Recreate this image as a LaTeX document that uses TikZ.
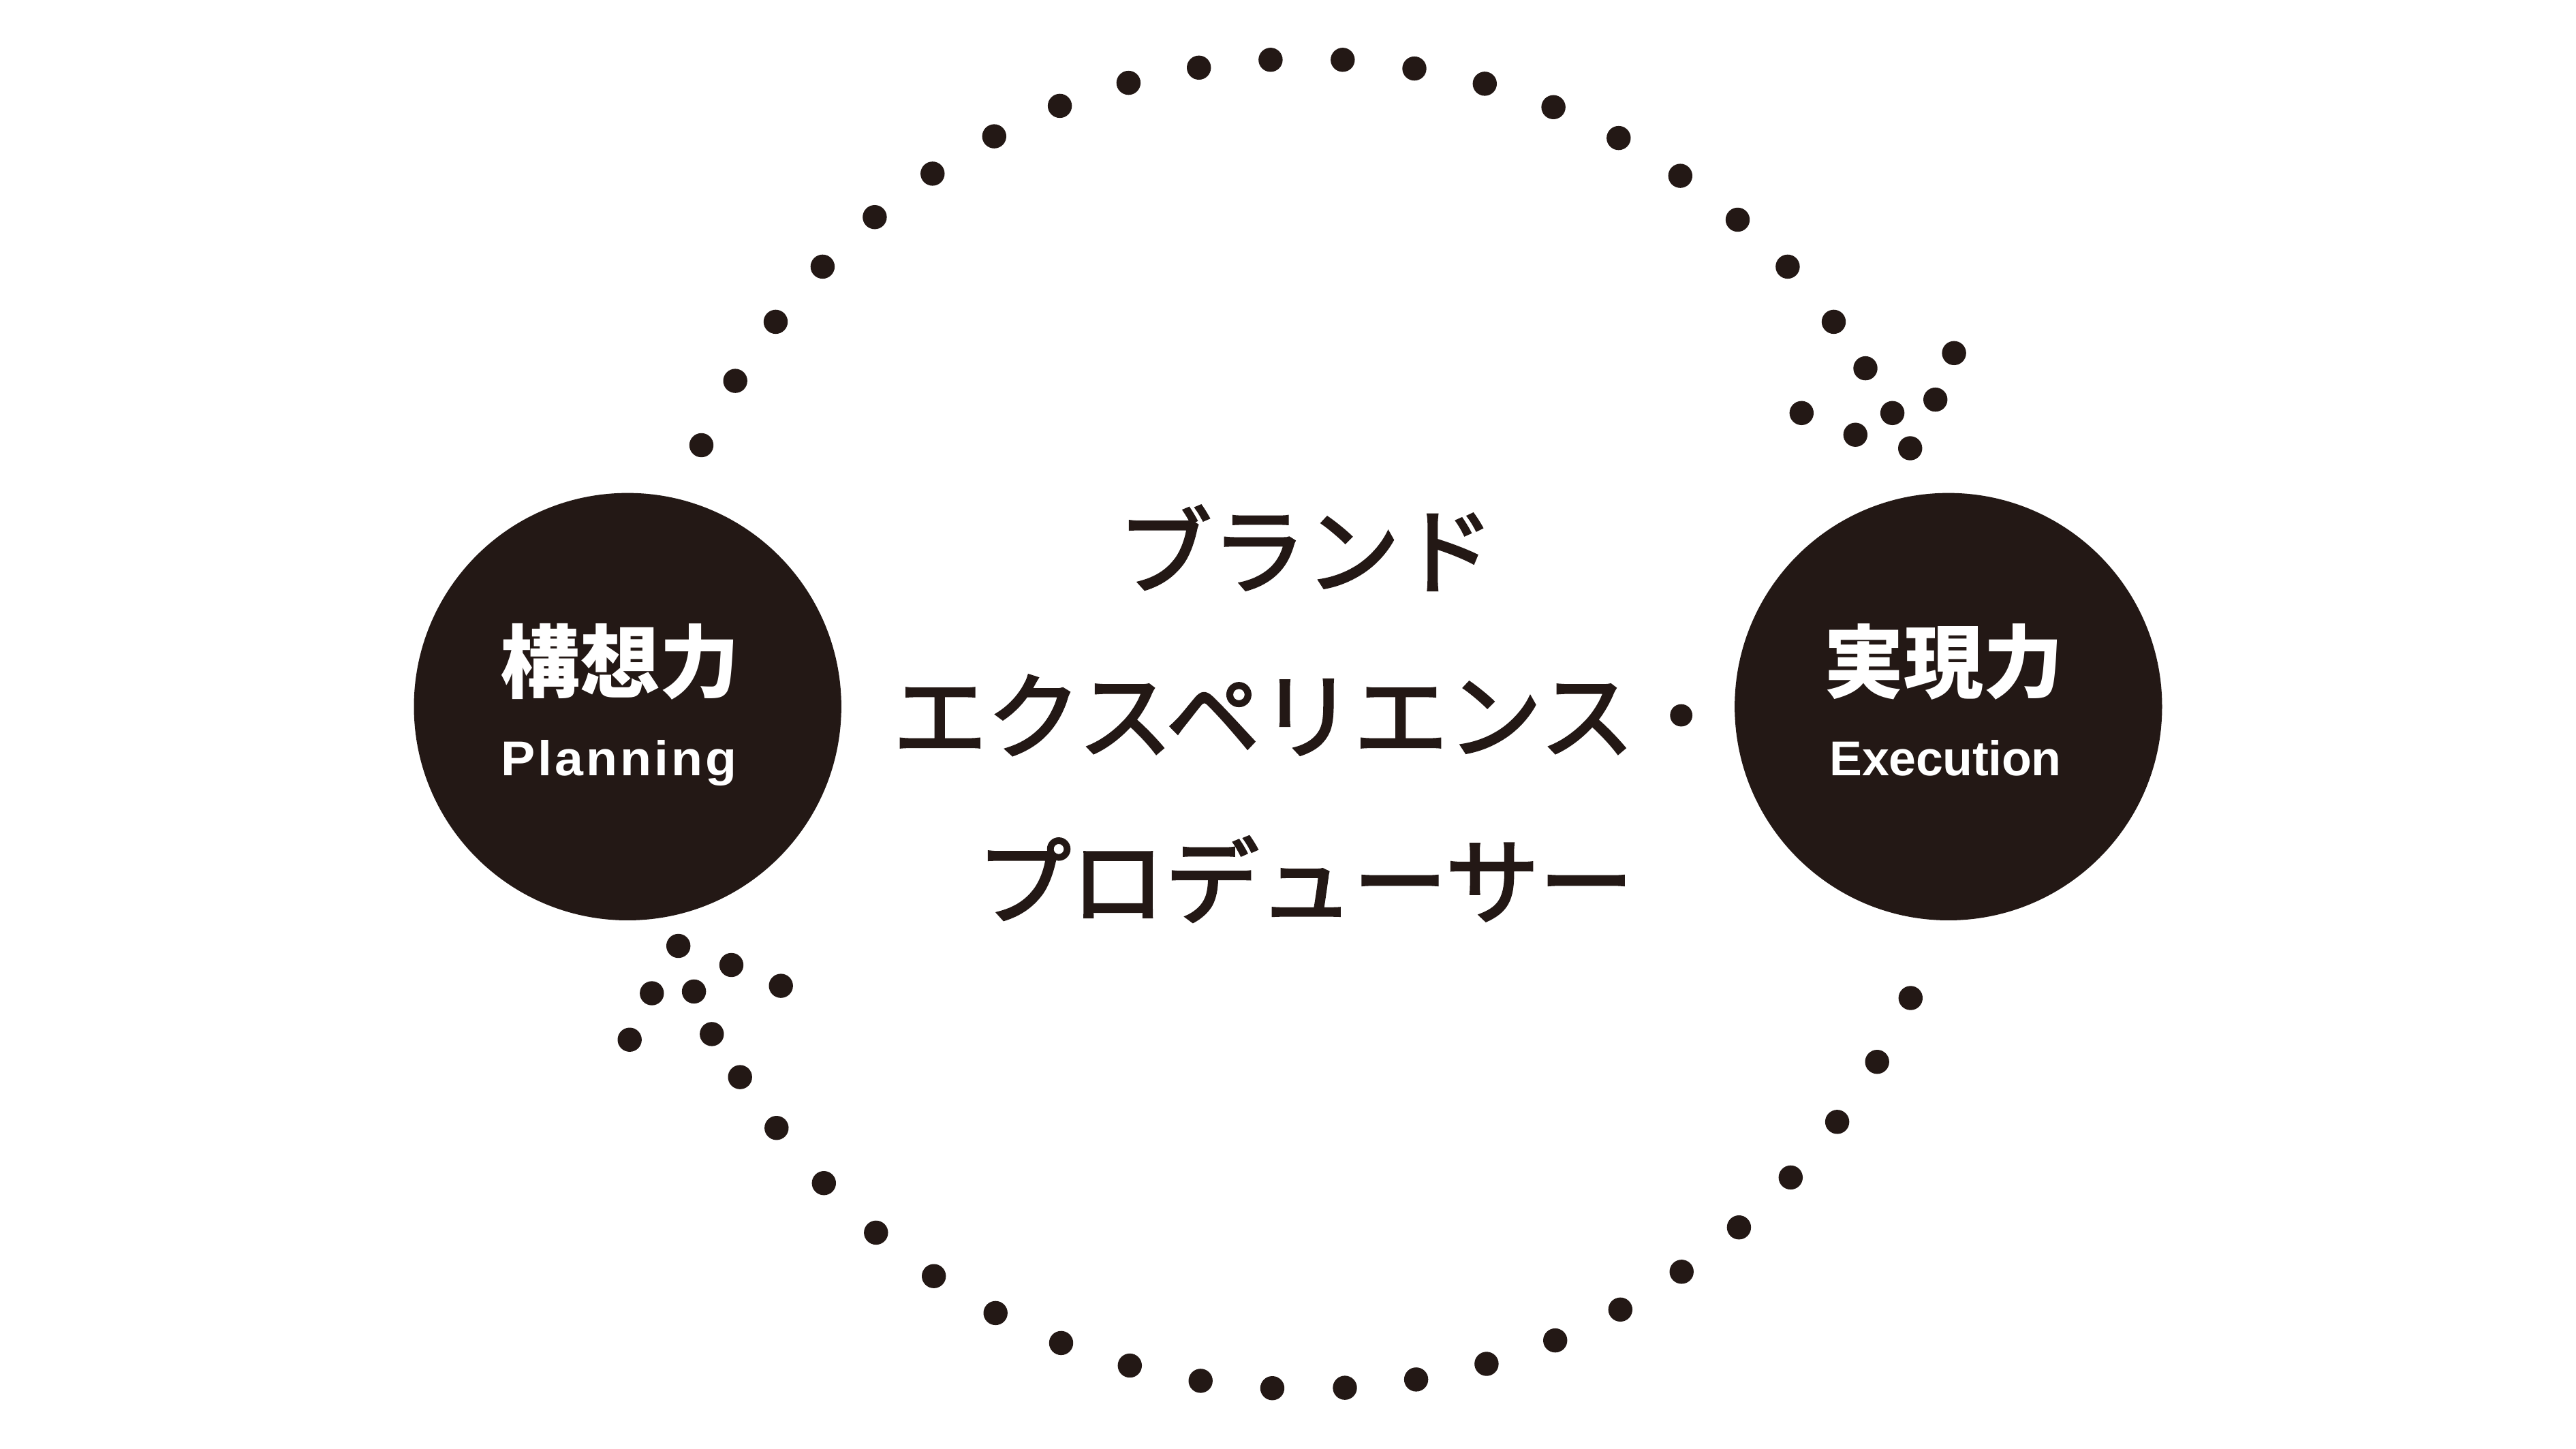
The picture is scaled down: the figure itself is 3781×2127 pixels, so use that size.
\documentclass[tikz,border=0pt]{standalone}
\usepackage{fontspec}
\newfontfamily\jp{Noto Sans CJK JP}
\newfontfamily\jpm{Noto Sans CJK JP}[FakeBold=2.5]
\newfontfamily\lat{Liberation Sans}
\definecolor{ink}{HTML}{231815}
\begin{document}
\begin{tikzpicture}[x=0.01cm,y=-0.01cm,
  ringdot/.style={fill=ink},
  hub/.style={circle,fill=ink,inner sep=0pt,minimum size=6.27cm},
  centertext/.style={anchor=base west,inner sep=0pt,text=ink,font=\jpm\fontsize{39.26}{40}\selectfont},
  hubjp/.style={anchor=base west,inner sep=0pt,text=white,font=\jp\bfseries\fontsize{33.3}{34}\selectfont},
  huben/.style={anchor=base west,inner sep=0pt,text=white,font=\lat\bfseries\fontsize{20.4}{21}\selectfont}]
\fill[white] (0,0) rectangle (3781,2127);
\useasboundingbox (0,0) rectangle (3781,2127);
% hubs
\node[hub] (plan) at (921.2,1037.3) {};
\node[hub] (exec) at (2859.8,1037.3) {};
\node[hubjp] (planjp) at (734,1015.3) {構想力};
\node[huben] (planen) at (735,1138.3) {\addfontfeature{LetterSpace=5.5,FakeStretch=1.05}Planning};
\node[hubjp] (execjp) at (2677,1015.3) {実現力};
\node[huben] (execen) at (2685,1138.3) {\addfontfeature{LetterSpace=-0.5}Execution};
% centre text
\node[centertext] (l1) at (1640,860.5) {ブランド};
\node[centertext] (l2) at (1310,1102.5) {エクスペリエンス・};
\node[centertext] (l3) at (1433,1345.5) {プロデューサー};
% dotted ring
\foreach \px/\py in {
 1029.5/653.5, 1079.2/559.1, 1138.5/472.4, 1207.4/391.4, 1283.9/318.7,
 1368.8/254.9, 1459.3/200.1, 1555.6/155.4, 1656.4/121.6, 1759.7/99.3,
 1864.9/87.8, 1970.8/87.8, 2076.0/100.6, 2179.3/122.9, 2280.1/157.3,
 2375.8/202.6, 2466.3/258.1, 2550.5/322.5, 2623.9/391.4, 2691.5/472.4,
 2738.0/540.6, 2868.1/518.3, 2840.7/586.6, 2644.3/606.3, 2777.6/606.3,
 2723.3/638.2, 2803.7/658.0,
 995.7/1388.5, 1073.5/1416.5, 956.8/1458.0, 1018.6/1455.4, 1146.2/1447.1,
 924.2/1526.2, 1044.8/1517.9, 1086.2/1581.1,
 1139.8/1655.7, 1209.3/1736.7, 1285.8/1809.4, 1370.7/1873.2, 1461.2/1927.4,
 1557.5/1971.4, 1658.3/2004.5, 1762.2/2026.9, 1867.5/2037.7,
 1974.0/2037.1, 2078.6/2024.9, 2181.9/2002.0, 2282.7/1967.6, 2378.3/1922.3,
 2468.2/1866.8, 2552.4/1801.7, 2628.3/1728.4, 2696.6/1646.8, 2755.2/1558.7,
 2804.3/1465.0}
 \fill[ringdot] (\px,\py) circle[radius=0.177cm];
\end{tikzpicture}
\end{document}
